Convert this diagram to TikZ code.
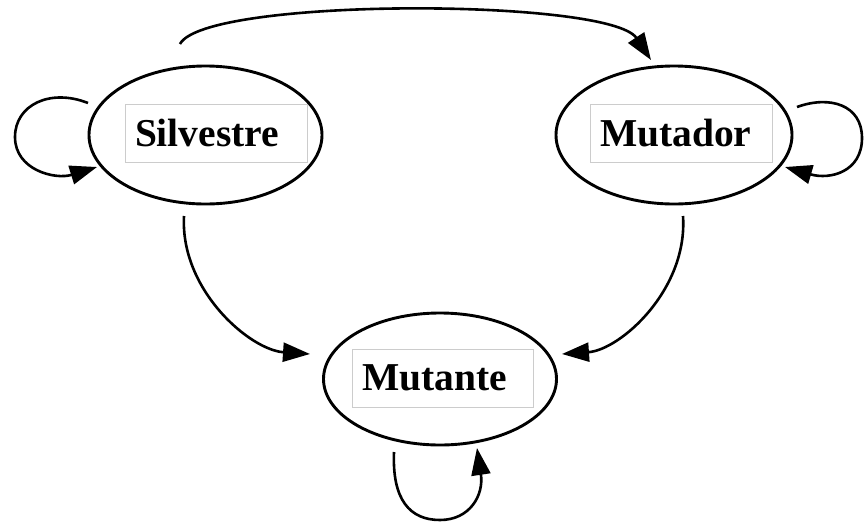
\documentclass[tikz,border=0pt]{standalone}
\usepackage{fontspec}
\setmainfont{Liberation Serif}
\usetikzlibrary{shapes.geometric,arrows.meta,calc}
\tikzset{
  state/.style={draw, ellipse, line width=2.9pt, inner sep=0pt},
  lbl/.style={draw=gray!40, line width=0.8pt, text width=162pt, inner xsep=10pt, inner ysep=0pt,
    minimum height=58pt, align=left, font=\fontsize{39.5}{40}\selectfont\bfseries},
  edge/.style={line width=2.6pt, -{Triangle[length=27pt,width=19pt]}},
}
\begin{document}
\begin{tikzpicture}[x=1pt,y=-1pt]
\useasboundingbox (0,0) rectangle (865,523);
\node[state, minimum width=233pt, minimum height=138pt] (sil) at (205.5,135) {};
\node[state, minimum width=236pt, minimum height=138pt] (mtd) at (674,135) {};
\node[state, minimum width=233pt, minimum height=132pt] (mte) at (440,379) {};
\node[lbl] (silT) at (216,133) {Silvestre};
\node[lbl] (mtdT) at (681,133) {Mutador};
\node[lbl, text width=161pt] (mteT) at (442.5,378) {Mutante};
% Silvestre -> Mutador
\draw[edge] ($(sil)+(-25.5,-91)$) .. controls +(25,-47) and +(-41,-62) .. ($(mtd)+(-23,-75)$);
% Silvestre self-loop
\coordinate (silL) at ($(sil)+(-190.5,2)$);
\draw[edge] ($(sil)+(-117.5,-32)$) .. controls +(-38,-15) and +(0,-32) .. (silL)
  .. controls +(0,33) and +(-42,13) .. ($(sil)+(-108.5,32)$);
% Mutador self-loop
\coordinate (mtdR) at ($(mtd)+(188,3)$);
\draw[edge] ($(mtd)+(123,-28)$) .. controls +(33,-12) and +(0,-33) .. (mtdR)
  .. controls +(0,34) and +(45,13) .. ($(mtd)+(111,32)$);
% Mutante self-loop
\coordinate (mteB) at ($(mte)+(0,141)$);
\draw[edge] ($(mte)+(-46,73)$) .. controls +(-2,48) and +(-30,0) .. (mteB)
  .. controls +(30,0) and +(7,47) .. ($(mte)+(37,69)$);
% Silvestre -> Mutante
\draw[edge] ($(sil)+(-21.5,81)$) .. controls +(-4,74) and +(-60,-4) .. ($(mte)+(-130,-25)$);
% Mutador -> Mutante
\draw[edge] ($(mtd)+(9,81)$) .. controls +(5,74) and +(58,-4) .. ($(mte)+(122,-25)$);
\end{tikzpicture}
\end{document}
